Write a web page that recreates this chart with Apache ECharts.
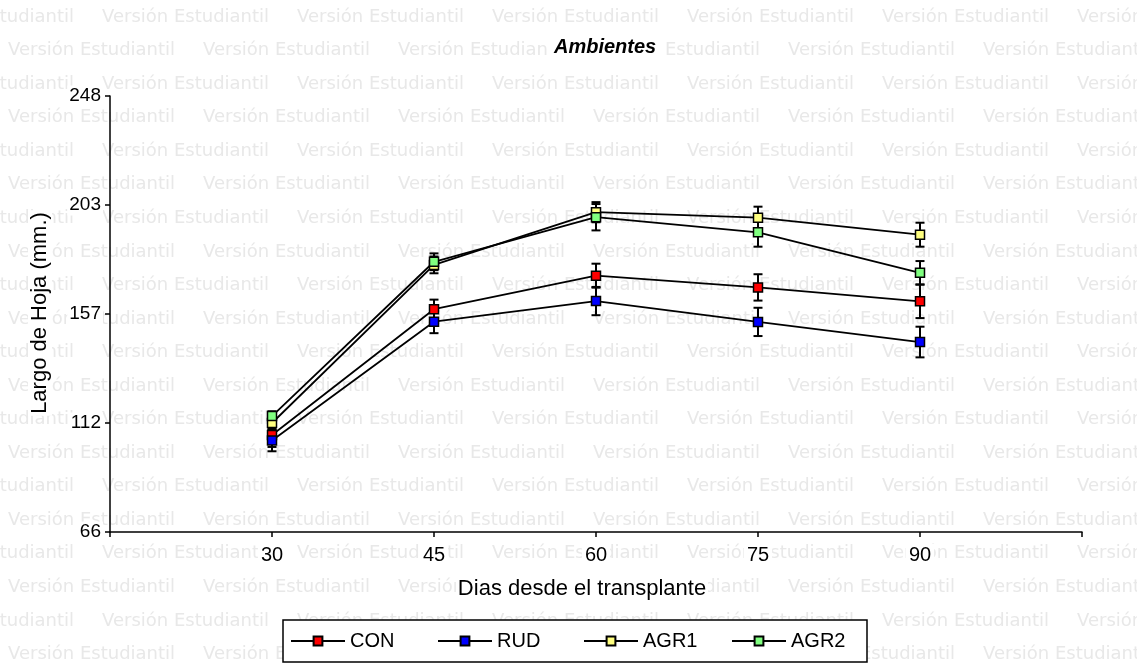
<!DOCTYPE html>
<html>
<head>
<meta charset="utf-8">
<title>Ambientes</title>
<script src="https://cdn.jsdelivr.net/npm/echarts@6/dist/echarts.min.js"></script>
<style>
  html, body { margin: 0; padding: 0; background: #fff; }
  #chart { width: 1137px; height: 668px; }
</style>
</head>
<body>
<div id="chart"></div>
<script>
// dias desde el transplante
var dias = [30, 45, 60, 75, 90];

// medias y error por tratamiento
var conMedia = [106.5, 159.0, 173.0, 168.1, 162.3];
var conErr   = [5.0, 4.0, 5.0, 5.5, 7.0];
var rudMedia = [104.2, 153.8, 162.4, 153.7, 145.3];
var rudErr   = [4.5, 4.8, 5.9, 5.9, 6.4];
var agr1Media = [111.5, 177.5, 199.5, 197.2, 190.1];
var agr1Err   = [2.5, 3.5, 4.2, 4.6, 5.0];
var agr2Media = [114.4, 178.8, 197.4, 191.1, 174.2];
var agr2Err   = [2.0, 3.5, 5.5, 6.0, 4.9];

var yTicks = [66, 111.5, 157, 202.5, 248];
var xTicks = [15, 30, 45, 60, 75, 90, 105];

var myChart = echarts.init(document.getElementById('chart'));

var fuente = 'Liberation Sans, Arial, sans-serif';

// marca de agua
var marca = [];
for (var k = 0; k < 20; k++) {
	var y = 17 + k * 33.55;
	var inicio = (k % 2 == 0) ? 102 - 195 : 8;
	for (var x = inicio; x < 1137; x += 195) {
		marca.push({
			type: 'text',
			x: x, y: y,
			z: -10,
			silent: true,
			style: {
				text: 'Versión Estudiantil',
				fill: '#e8e8e8',
				font: '18px "DejaVu Sans", sans-serif',
				verticalAlign: 'middle'
			}
		});
	}
}

marca.push({
	type: 'text', x: 582, y: 589, z: 5, silent: true,
	style: {
		text: 'Dias desde el transplante', fill: '#000',
		font: '22px ' + fuente, align: 'center', verticalAlign: 'middle',
		backgroundColor: '#fff', padding: [1, 2]
	}
});
marca.push({
	type: 'text', x: 40, y: 313, z: 5, silent: true, rotation: Math.PI / 2,
	style: {
		text: 'Largo de Hoja (mm.)', fill: '#000',
		font: '22px ' + fuente, align: 'center', verticalAlign: 'middle',
		backgroundColor: '#fff', padding: [1, 2]
	}
});
marca.push({
	type: 'rect', z: 5, silent: true,
	shape: { x: 283, y: 620, width: 584, height: 42 },
	style: { fill: '#fff', stroke: '#000', lineWidth: 1.5 }
});

function puntos(media) {
	return dias.map(function (d, i) { return [d, media[i]]; });
}
function barras(media, err) {
	return dias.map(function (d, i) { return [d, media[i] - err[i], media[i] + err[i]]; });
}

function renderErr(params, api) {
	var x = api.value(0);
	var p1 = api.coord([x, api.value(1)]);
	var p2 = api.coord([x, api.value(2)]);
	var w = 4.5;
	var st = { stroke: '#000', lineWidth: 2 };
	return {
		type: 'group',
		children: [
			{ type: 'line', shape: { x1: p1[0], y1: p1[1], x2: p2[0], y2: p2[1] }, style: st },
			{ type: 'line', shape: { x1: p1[0] - w, y1: p1[1], x2: p1[0] + w, y2: p1[1] }, style: st },
			{ type: 'line', shape: { x1: p2[0] - w, y1: p2[1], x2: p2[0] + w, y2: p2[1] }, style: st }
		]
	};
}

function serieLinea(nombre, media, color) {
	return {
		name: nombre,
		type: 'line',
		data: puntos(media),
		symbol: 'rect',
		symbolSize: 9,
		z: 3,
		lineStyle: { color: '#000', width: 1.8 },
		itemStyle: { color: color, borderColor: '#000', borderWidth: 1.5 },
		emphasis: { disabled: true }
	};
}
function serieErr(media, err) {
	return {
		type: 'custom',
		renderItem: renderErr,
		data: barras(media, err),
		encode: { x: 0, y: [1, 2] },
		z: 2,
		silent: true
	};
}

var nombres = ['CON', 'RUD', 'AGR1', 'AGR2'];
var leyendaX = [290, 437, 583, 731];

var option = {
	animation: false,
	backgroundColor: '#fff',
	title: {
		text: 'Ambientes',
		left: 548,
		top: 36,
		padding: [1, 6],
		backgroundColor: '#fff',
		z: 6,
		textStyle: { fontFamily: fuente, fontSize: 20, fontWeight: 'bold', fontStyle: 'italic', color: '#000' }
	},
	legend: nombres.map(function (n, i) {
		return {
			data: [n],
			left: leyendaX[i],
			top: 631,
			padding: 0,
			itemWidth: 54,
			itemHeight: 11,
			selectedMode: false,
			z: 6,
			textStyle: { fontFamily: fuente, fontSize: 20, color: '#000' }
		};
	}),
	grid: { left: 110, right: 55, top: 96, bottom: 136 },
	xAxis: {
		type: 'value',
		min: 15,
		max: 105,
		axisLine: { lineStyle: { color: '#000', width: 1.5 } },
		axisTick: { show: true, inside: false, length: 5, customValues: xTicks, lineStyle: { color: '#000', width: 1.5 } },
		axisLabel: {
			customValues: [30, 45, 60, 75, 90],
			margin: 12,
			fontFamily: fuente, fontSize: 20, color: '#000',
			backgroundColor: '#fff', padding: [1, 3]
		},
		splitLine: { show: false }
	},
	yAxis: {
		type: 'value',
		min: 66,
		max: 248,
		axisLine: { show: true, lineStyle: { color: '#000', width: 1.5 } },
		axisTick: { show: true, inside: false, length: 5, customValues: yTicks, lineStyle: { color: '#000', width: 1.5 } },
		axisLabel: {
			customValues: yTicks,
			margin: 7,
			formatter: function (v) { return Math.round(v); },
			fontFamily: fuente, fontSize: 19, color: '#000',
			backgroundColor: '#fff', padding: [1, 2]
		},
		splitLine: { show: false }
	},
	graphic: marca,
	series: [
		serieErr(conMedia, conErr),
		serieErr(rudMedia, rudErr),
		serieErr(agr1Media, agr1Err),
		serieErr(agr2Media, agr2Err),
		serieLinea('CON', conMedia, '#ff0000'),
		serieLinea('RUD', rudMedia, '#0000ff'),
		serieLinea('AGR1', agr1Media, '#ffff80'),
		serieLinea('AGR2', agr2Media, '#80ff80')
	]
};

myChart.setOption(option);
</script>
</body>
</html>
